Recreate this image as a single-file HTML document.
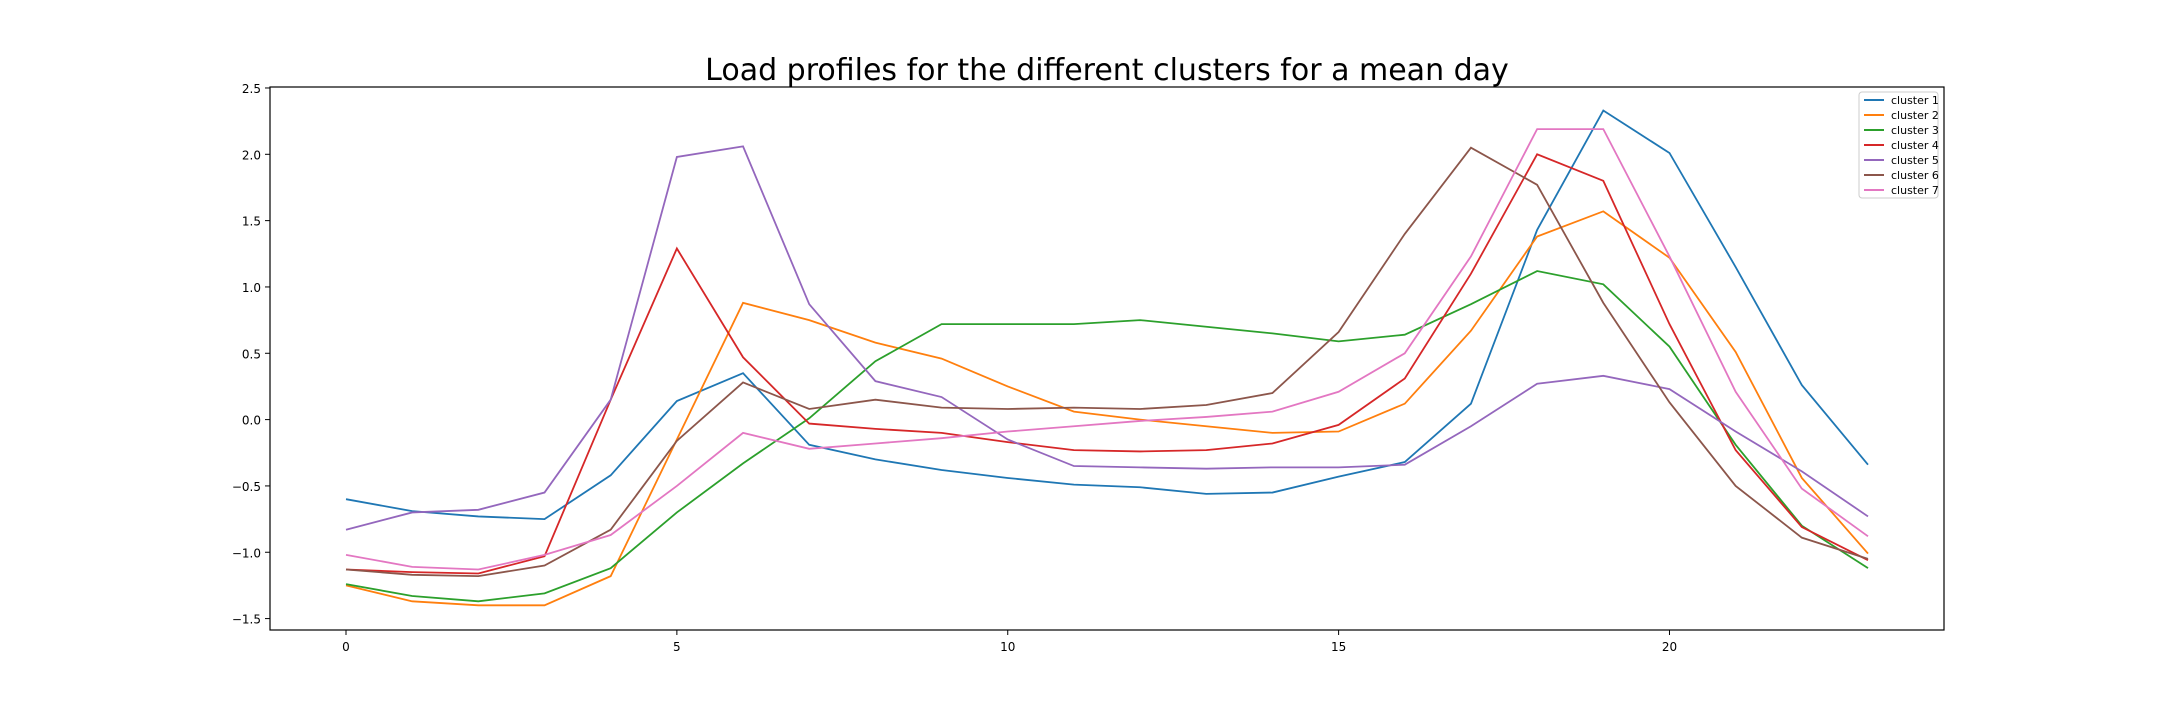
<!DOCTYPE html>
<html><head><meta charset="utf-8"><style>
body{margin:0;background:#fff;}
svg{display:block;font-family:"DejaVu Sans","Liberation Sans",sans-serif;}
</style></head><body>
<svg id="chart" width="2160" height="720" viewBox="0 0 2160 720" xmlns="http://www.w3.org/2000/svg">
<text x="1107" y="80" font-size="30" text-anchor="middle" fill="#000">Load profiles for the different clusters for a mean day</text>
<g id="plot"></g>
</svg>
<script>
const hours = [0,1,2,3,4,5,6,7,8,9,10,11,12,13,14,15,16,17,18,19,20,21,22,23];
const seriesNames = ["cluster 1","cluster 2","cluster 3","cluster 4","cluster 5","cluster 6","cluster 7"];
const cluster1 = [-0.60,-0.69,-0.73,-0.75,-0.42,0.14,0.35,-0.19,-0.30,-0.38,-0.44,-0.49,-0.51,-0.56,-0.55,-0.43,-0.32,0.12,1.43,2.33,2.01,1.15,0.26,-0.34];
const cluster2 = [-1.25,-1.37,-1.40,-1.40,-1.18,-0.15,0.88,0.75,0.58,0.46,0.25,0.06,0.00,-0.05,-0.10,-0.09,0.12,0.67,1.38,1.57,1.22,0.51,-0.44,-1.01];
const cluster3 = [-1.24,-1.33,-1.37,-1.31,-1.12,-0.70,-0.33,0.01,0.44,0.72,0.72,0.72,0.75,0.70,0.65,0.59,0.64,0.87,1.12,1.02,0.55,-0.19,-0.80,-1.12];
const cluster4 = [-1.13,-1.15,-1.16,-1.03,0.15,1.29,0.47,-0.03,-0.07,-0.10,-0.17,-0.23,-0.24,-0.23,-0.18,-0.04,0.31,1.10,2.00,1.80,0.72,-0.23,-0.81,-1.06];
const cluster5 = [-0.83,-0.70,-0.68,-0.55,0.15,1.98,2.06,0.87,0.29,0.17,-0.15,-0.35,-0.36,-0.37,-0.36,-0.36,-0.34,-0.05,0.27,0.33,0.23,-0.09,-0.39,-0.73];
const cluster6 = [-1.13,-1.17,-1.18,-1.10,-0.83,-0.16,0.28,0.08,0.15,0.09,0.08,0.09,0.08,0.11,0.20,0.66,1.40,2.05,1.77,0.88,0.13,-0.50,-0.89,-1.05];
const cluster7 = [-1.02,-1.11,-1.13,-1.02,-0.87,-0.50,-0.10,-0.22,-0.18,-0.14,-0.09,-0.05,-0.01,0.02,0.06,0.21,0.50,1.23,2.19,2.19,1.23,0.21,-0.52,-0.88];
const xTicks = [0,5,10,15,20];
const yTicks = [-1.5,-1.0,-0.5,0.0,0.5,1.0,1.5,2.0,2.5];

const allSeries = [cluster1,cluster2,cluster3,cluster4,cluster5,cluster6,cluster7];
const colors = ["#1f77b4","#ff7f0e","#2ca02c","#d62728","#9467bd","#8c564b","#e377c2"];
const L=270,R=1944,T=87,B=630;
const x = v => 346 + v*(1868-346)/23;
const y = v => 419.6 - v*132.65;
const NS="http://www.w3.org/2000/svg";
const g=document.getElementById('plot');
function mk(tag,attrs){const e=document.createElementNS(NS,tag);for(const k in attrs)e.setAttribute(k,attrs[k]);g.appendChild(e);return e;}

allSeries.forEach((s,i)=>{
  const p=mk('polyline',{points:s.map((v,j)=>x(hours[j])+','+y(v)).join(' '),fill:'none',stroke:colors[i],'stroke-width':1.8});
  
  
});
const frame=mk('rect',{x:L,y:T,width:R-L,height:B-T,fill:'none',stroke:'#000','stroke-width':1.2});


xTicks.forEach(t=>{
  const tk=mk('line',{x1:x(t),x2:x(t),y1:B,y2:B+5,stroke:'#000'});
  
  
  const tx=mk('text',{x:x(t),y:B+21,'font-size':12,'text-anchor':'middle'});
  tx.textContent=t;
  
  
});
yTicks.forEach(t=>{
  const tk=mk('line',{x1:L-5,x2:L,y1:y(t),y2:y(t),stroke:'#000'});
  
  
  const tx=mk('text',{x:L-9,y:y(t)+5,'font-size':12,'text-anchor':'end'});
  tx.textContent=t.toFixed(1).replace('-','\u2212');
  
  
});
const lg=mk('rect',{x:1859,y:92,width:79,height:106,fill:'#fff',stroke:'#ccc',rx:3});


seriesNames.forEach((n,i)=>{
  const yy=100+i*15;
  const ln=mk('line',{x1:1864,x2:1884,y1:yy,y2:yy,stroke:colors[i],'stroke-width':2});
  
  
  const tx=mk('text',{x:1891,y:yy+4,'font-size':11});
  tx.textContent=n;
  
  
});
</script>
</body></html>
